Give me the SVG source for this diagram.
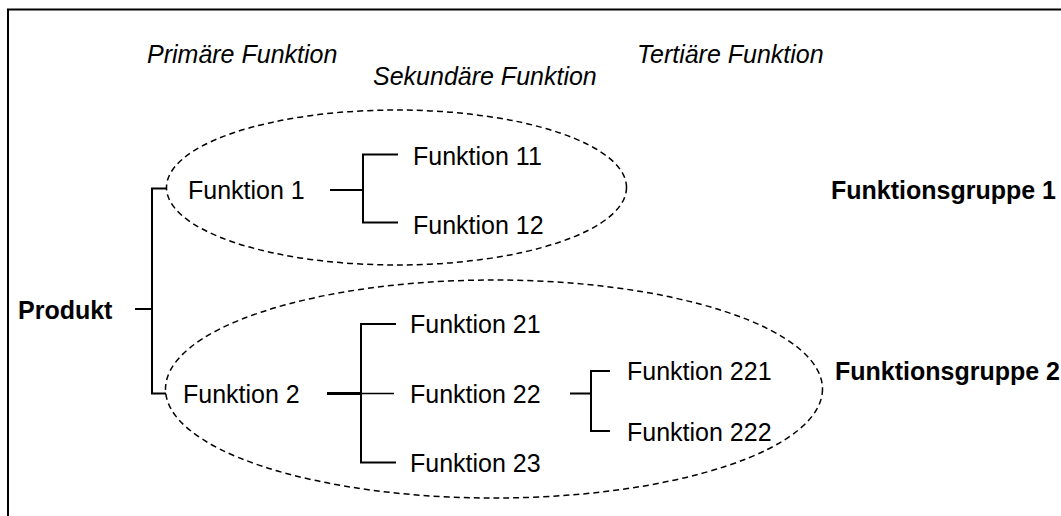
<svg xmlns="http://www.w3.org/2000/svg" width="1061" height="516" viewBox="0 0 1061 516">
  <style>
    text { font-family: "Liberation Sans", Arial, sans-serif; font-size: 25px; fill: #000; }
    .it { font-style: italic; }
    .b { font-weight: bold; }
    .ln { stroke: #000; stroke-width: 2; fill: none; }
    .thick { stroke: #000; stroke-width: 3; fill: none; }
    .thin { stroke: #000; stroke-width: 1.5; fill: none; }
    .grp { stroke: #000; stroke-width: 1.5; fill: none; stroke-dasharray: 6 4; }
  </style>
  <rect width="1061" height="516" fill="#fff"/>
  <path d="M8,530 V9.5 H1070" class="ln"/>

  <g id="headers">
    <text class="it" x="147" y="63">Primäre Funktion</text>
    <text class="it" x="373" y="85">Sekundäre Funktion</text>
    <text class="it" x="637" y="63">Tertiäre Funktion</text>
  </g>

  <g id="group1">
    <ellipse class="grp" cx="396.5" cy="187.5" rx="230" ry="77.5"/>
    <text class="b" x="831" y="199">Funktionsgruppe 1</text>
  </g>
  <g id="group2">
    <ellipse class="grp" cx="494" cy="389" rx="328.5" ry="109"/>
    <text class="b" x="835" y="380">Funktionsgruppe 2</text>
  </g>

  <g id="produkt"><text class="b" x="18" y="319">Produkt</text></g>
  <g id="f1"><text x="188" y="199">Funktion 1</text></g>
  <g id="f11"><text x="413" y="165">Funktion 11</text></g>
  <g id="f12"><text x="413" y="234">Funktion 12</text></g>
  <g id="f2"><text x="183" y="403">Funktion 2</text></g>
  <g id="f21"><text x="410" y="333">Funktion 21</text></g>
  <g id="f22"><text x="410" y="403">Funktion 22</text></g>
  <g id="f23"><text x="410" y="472">Funktion 23</text></g>
  <g id="f221"><text x="627" y="380">Funktion 221</text></g>
  <g id="f222"><text x="627" y="441">Funktion 222</text></g>

  <g id="connectors">
    <path class="ln" d="M135,309 H152 M166,188.5 H152 V393.5 H166"/>
    <path class="ln" d="M330,190 H363 M398,154.5 H363 V222.5 H398"/>
    <path class="thick" d="M327,393.5 H361"/>
    <path class="thin" d="M361,393.5 H394"/>
    <path class="ln" d="M396,324 H361 V462.5 H396"/>
    <path class="ln" d="M570,393.5 H591 M610,371 H591 V431 H610"/>
  </g>
</svg>
